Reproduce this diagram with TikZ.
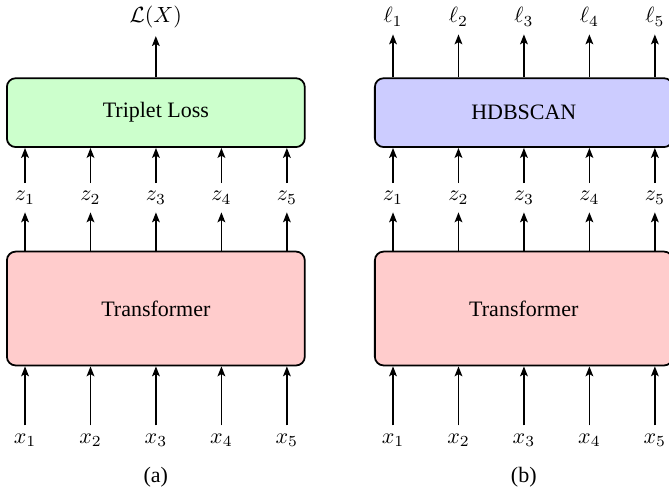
\documentclass[tikz,border=0pt]{standalone}
\usepackage{fontspec}
\setmainfont{Liberation Serif}
\usepackage{amsmath, amssymb}
\usetikzlibrary{arrows.meta}

\begin{document}
\begin{tikzpicture}[->, >={Stealth[length=4.5pt,width=3.5pt,inset=1pt]}, thick,
        every node/.append style={font=\rmfamily}]
      \tikzstyle{block} = [draw, rounded corners=4pt, minimum width=4.76cm]
      \useasboundingbox (0,0) rectangle (10.69,-7.92);
      % (a)
      \node (tripletloss) [block, fill=green!20, minimum height=1.10cm] at (2.49,-1.80) {Triplet Loss};
      \node (transformerA) [block, fill=red!20, minimum height=1.82cm] at (2.49,-4.93) {Transformer};
      \node (loss) at (2.49,-0.27) {$\mathcal{L}(X)$};
      \draw (tripletloss) -- (loss);
      \foreach \i in {1,...,5} {
        \node (za\i) at ({0.40+(\i-1)*1.046},-3.16) {$z_\i$};
        \node (xa\i) at ({0.40+(\i-1)*1.046},-7.03) {$x_\i$};
        \draw (za\i) -- (za\i |- tripletloss.south);
        \draw (za\i |- transformerA.north) -- (za\i);
        \draw (xa\i) -- (xa\i |- transformerA.south);
      }
      \node (capA) at (2.49,-7.63) {(a)};
      % (b)
      \node (hdbscan) [block, fill=blue!20, minimum height=1.10cm] at (8.37,-1.80) {HDBSCAN};
      \node (transformerB) [block, fill=red!20, minimum height=1.82cm] at (8.37,-4.93) {Transformer};
      \foreach \i in {1,...,5} {
        \node (lb\i) at ({6.28+(\i-1)*1.046},-0.27) {$\ell_\i$};
        \node (zb\i) at ({6.28+(\i-1)*1.046},-3.16) {$z_\i$};
        \node (xb\i) at ({6.28+(\i-1)*1.046},-7.03) {$x_\i$};
        \draw (lb\i |- hdbscan.north) -- (lb\i);
        \draw (zb\i) -- (zb\i |- hdbscan.south);
        \draw (zb\i |- transformerB.north) -- (zb\i);
        \draw (xb\i) -- (xb\i |- transformerB.south);
      }
      \node (capB) at (8.37,-7.63) {(b)};
    \end{tikzpicture}
\end{document}
